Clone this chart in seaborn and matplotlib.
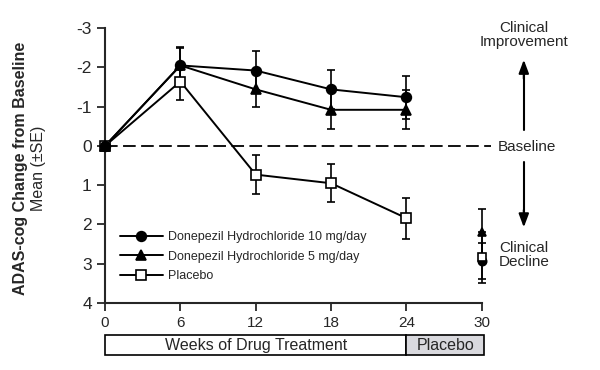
"""ADAS-cog change from baseline over 30 weeks, donepezil vs placebo."""

import matplotlib

matplotlib.use("Agg")
import matplotlib.pyplot as plt
import pandas as pd
import seaborn as sns
from matplotlib.patches import Rectangle

sns.set_style("ticks")
plt.rcParams["font.family"] = ["Liberation Sans", "DejaVu Sans"]
plt.rcParams["axes.unicode_minus"] = False

WEEKS = [0, 6, 12, 18, 24]
WEEK_FOLLOWUP = 30

GROUPS = [
    "Donepezil Hydrochloride 10 mg/day",
    "Donepezil Hydrochloride 5 mg/day",
    "Placebo",
]
MEAN_10MG = [0.0, -2.05, -1.92, -1.44, -1.24]
MEAN_5MG = [0.0, -2.05, -1.44, -0.92, -0.92]
MEAN_PLACEBO = [0.0, -1.64, 0.73, 0.95, 1.84]
SE_10MG = [0.0, 0.44, 0.49, 0.50, 0.55]
SE_5MG = [0.0, 0.46, 0.46, 0.49, 0.50]
SE_PLACEBO = [0.0, 0.47, 0.49, 0.48, 0.52]

# week 30 (placebo washout) values, plotted without connecting lines
FOLLOWUP_MEAN = [2.93, 2.18, 2.83]
FOLLOWUP_SE = [0.47, 0.58, 0.65]

MARKERS = {GROUPS[0]: "o", GROUPS[1]: "^", GROUPS[2]: "s"}
FACES = {GROUPS[0]: "black", GROUPS[1]: "black", GROUPS[2]: "white"}

df = pd.DataFrame(
    {
        "week": WEEKS * 3,
        "change": MEAN_10MG + MEAN_5MG + MEAN_PLACEBO,
        "se": SE_10MG + SE_5MG + SE_PLACEBO,
        "group": [g for g in GROUPS for _ in WEEKS],
    }
)

fig = plt.figure(figsize=(6.0, 3.7), dpi=100)
ax = fig.add_axes([0.175, 0.181, 0.628, 0.743])

# baseline reference line, running past the axis to the label
ax.plot([0, 30.7], [0, 0], color="black", lw=1.3, ls=(0, (7, 3)), clip_on=False, zorder=1)

for group in GROUPS:
    sub = df[df["group"] == group]
    ax.errorbar(
        sub["week"], sub["change"], yerr=sub["se"], fmt="none",
        ecolor="black", elinewidth=1.2, capsize=3, capthick=1.2, zorder=2,
    )

sns.lineplot(
    data=df, x="week", y="change", hue="group", style="group",
    palette=["black"] * 3, dashes=False, markers=MARKERS, ax=ax,
    lw=1.4, markersize=0, legend=False, zorder=3,
)

for group in reversed(GROUPS):
    sub = df[df["group"] == group]
    ax.plot(
        sub["week"], sub["change"], ls="none", marker=MARKERS[group],
        ms=7, mfc=FACES[group], mec="black", mew=1.2, zorder=4, clip_on=False,
    )

for group, mean, se in zip(GROUPS, FOLLOWUP_MEAN, FOLLOWUP_SE):
    ax.errorbar(
        [WEEK_FOLLOWUP], [mean], yerr=[se], fmt=MARKERS[group], ms=6,
        mfc=FACES[group], mec="black", mew=1.2, ecolor="black",
        elinewidth=1.2, capsize=3, capthick=1.2, clip_on=False, zorder=4,
    )

handles = [
    plt.Line2D([], [], color="black", lw=1.4, marker=MARKERS[g], ms=7,
               mfc=FACES[g], mec="black", mew=1.2)
    for g in GROUPS
]
ax.legend(
    handles, GROUPS, loc="lower left", bbox_to_anchor=(0.01, 0.035),
    frameon=False, fontsize=9, handlelength=3.4, labelspacing=0.6,
    handletextpad=0.4,
)

ax.set_xlim(0, 30)
ax.set_ylim(4, -3)
ax.set_xticks([0, 6, 12, 18, 24, 30])
ax.set_yticks(range(-3, 5))
ax.tick_params(axis="y", labelsize=12.5, length=6, width=1.3, direction="out")
ax.tick_params(axis="x", labelsize=11, length=6, width=1.3, direction="out")
sns.despine(ax=ax)
for side in ("left", "bottom"):
    ax.spines[side].set_linewidth(1.5)
ax.set_xlabel("")
ax.set_ylabel("")

fig.text(0.035, 0.545, "ADAS-cog Change from Baseline", rotation=90,
         ha="center", va="center", fontsize=11.5, fontweight="bold")
fig.text(0.065, 0.545, "Mean (\u00b1SE)", rotation=90,
         ha="center", va="center", fontsize=11.5)

# treatment period boxes under the x axis
trans = ax.get_xaxis_transform()
ax.add_patch(Rectangle((0, -0.19), 24, 0.072, transform=trans, clip_on=False,
                       facecolor="white", edgecolor="black", lw=1.2))
ax.add_patch(Rectangle((24, -0.19), 6.2, 0.072, transform=trans, clip_on=False,
                       facecolor="#d9d9de", edgecolor="black", lw=1.2))
ax.text(12, -0.154, "Weeks of Drug Treatment", transform=trans,
        ha="center", va="center", fontsize=11.5)
ax.text(27.1, -0.154, "Placebo", transform=trans,
        ha="center", va="center", fontsize=11.5)

narrow = ["Liberation Sans Narrow", "DejaVu Sans Condensed", "Liberation Sans"]
fig.text(0.873, 0.905, "Clinical\nImprovement", ha="center", va="center",
         fontsize=11, family=narrow, linespacing=1.0)
fig.text(0.83, 0.603, "Baseline", ha="left", va="center", fontsize=11, family=narrow)
fig.text(0.873, 0.311, "Clinical\nDecline", ha="center", va="center",
         fontsize=11, family=narrow, linespacing=1.0)
fig.add_artist(plt.Line2D([0.873, 0.873], [0.649, 0.80], color="black", lw=1.5))
ax.annotate("", xy=(0.873, 0.846), xytext=(0.873, 0.78), xycoords="figure fraction",
            arrowprops=dict(arrowstyle="-|>,head_length=0.8,head_width=0.3",
                            color="black", lw=1.5))
fig.add_artist(plt.Line2D([0.873, 0.873], [0.562, 0.42], color="black", lw=1.5))
ax.annotate("", xy=(0.873, 0.378), xytext=(0.873, 0.44), xycoords="figure fraction",
            arrowprops=dict(arrowstyle="-|>,head_length=0.8,head_width=0.3",
                            color="black", lw=1.5))

fig.savefig("out.png", dpi=100)
